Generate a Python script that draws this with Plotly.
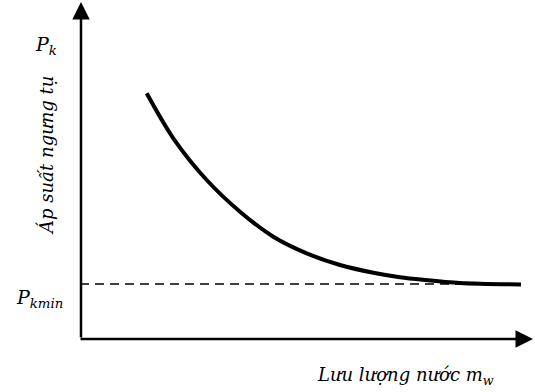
import plotly.graph_objects as go

# Curve: condensing pressure vs. water flow (arbitrary units)
flow = [66.7, 93.3, 126.7, 160, 193.3, 226.7, 260, 293.3, 320, 343, 380, 441]
pressure = [244.7, 199.7, 158, 126.3, 101.3, 84.7, 73, 65.3, 60.8, 58.2, 55.0, 53.5]
p_kmin = 54
x_max, y_max = 455, 338

SERIF = "DejaVu Serif, Liberation Serif, serif"

fig = go.Figure()
fig.add_trace(go.Scatter(x=[0, 440], y=[p_kmin, p_kmin], mode="lines",
                         line=dict(color="black", width=1.5, dash="9px,6px"),
                         hoverinfo="skip"))
fig.add_trace(go.Scatter(x=flow, y=pressure, mode="lines",
                         line=dict(color="black", width=4, shape="spline", smoothing=0.9),
                         hoverinfo="skip"))

def px(x):
    return (x - 80) / 455.0

def py(y):
    return (338 - y) / 338.0

ann = []
# axes with arrows
ann.append(dict(x=px(81), y=py(2), ax=0, ay=337, xref="paper", yref="paper",
                showarrow=True, arrowhead=2, arrowsize=1.4, arrowwidth=2.5,
                arrowcolor="black", text=""))
ann.append(dict(x=px(533), y=py(339), ax=-454, ay=0, xref="paper", yref="paper",
                showarrow=True, arrowhead=2, arrowsize=1.4, arrowwidth=2.5,
                arrowcolor="black", text=""))

def label(x, y, text, size, angle=0):
    return dict(x=px(x), y=py(y), xref="paper", yref="paper", showarrow=False,
                xanchor="center", yanchor="middle", textangle=angle,
                text=text, font=dict(family=SERIF, size=size, color="black"))

ann.append(label(46, 45, "<i>P<sub>k</sub></i>", 19))
ann.append(label(39, 298, "<i>P<sub>kmin</sub></i>", 19))
ann.append(label(46, 156, "<i>Áp suất ngưng tụ</i>", 18, -90))
ann.append(label(405, 376, "<i>Lưu lượng nước m<sub>w</sub></i>", 18))

fig.update_layout(
    width=535, height=392,
    margin=dict(l=80, r=0, t=0, b=54),
    paper_bgcolor="white", plot_bgcolor="white",
    showlegend=False,
    xaxis=dict(range=[0, x_max], visible=False, fixedrange=True),
    yaxis=dict(range=[0, y_max], visible=False, fixedrange=True),
    annotations=ann,
)
fig.write_html("out.html", config={"displayModeBar": False},
               post_script="document.body.style.margin='0px';")
